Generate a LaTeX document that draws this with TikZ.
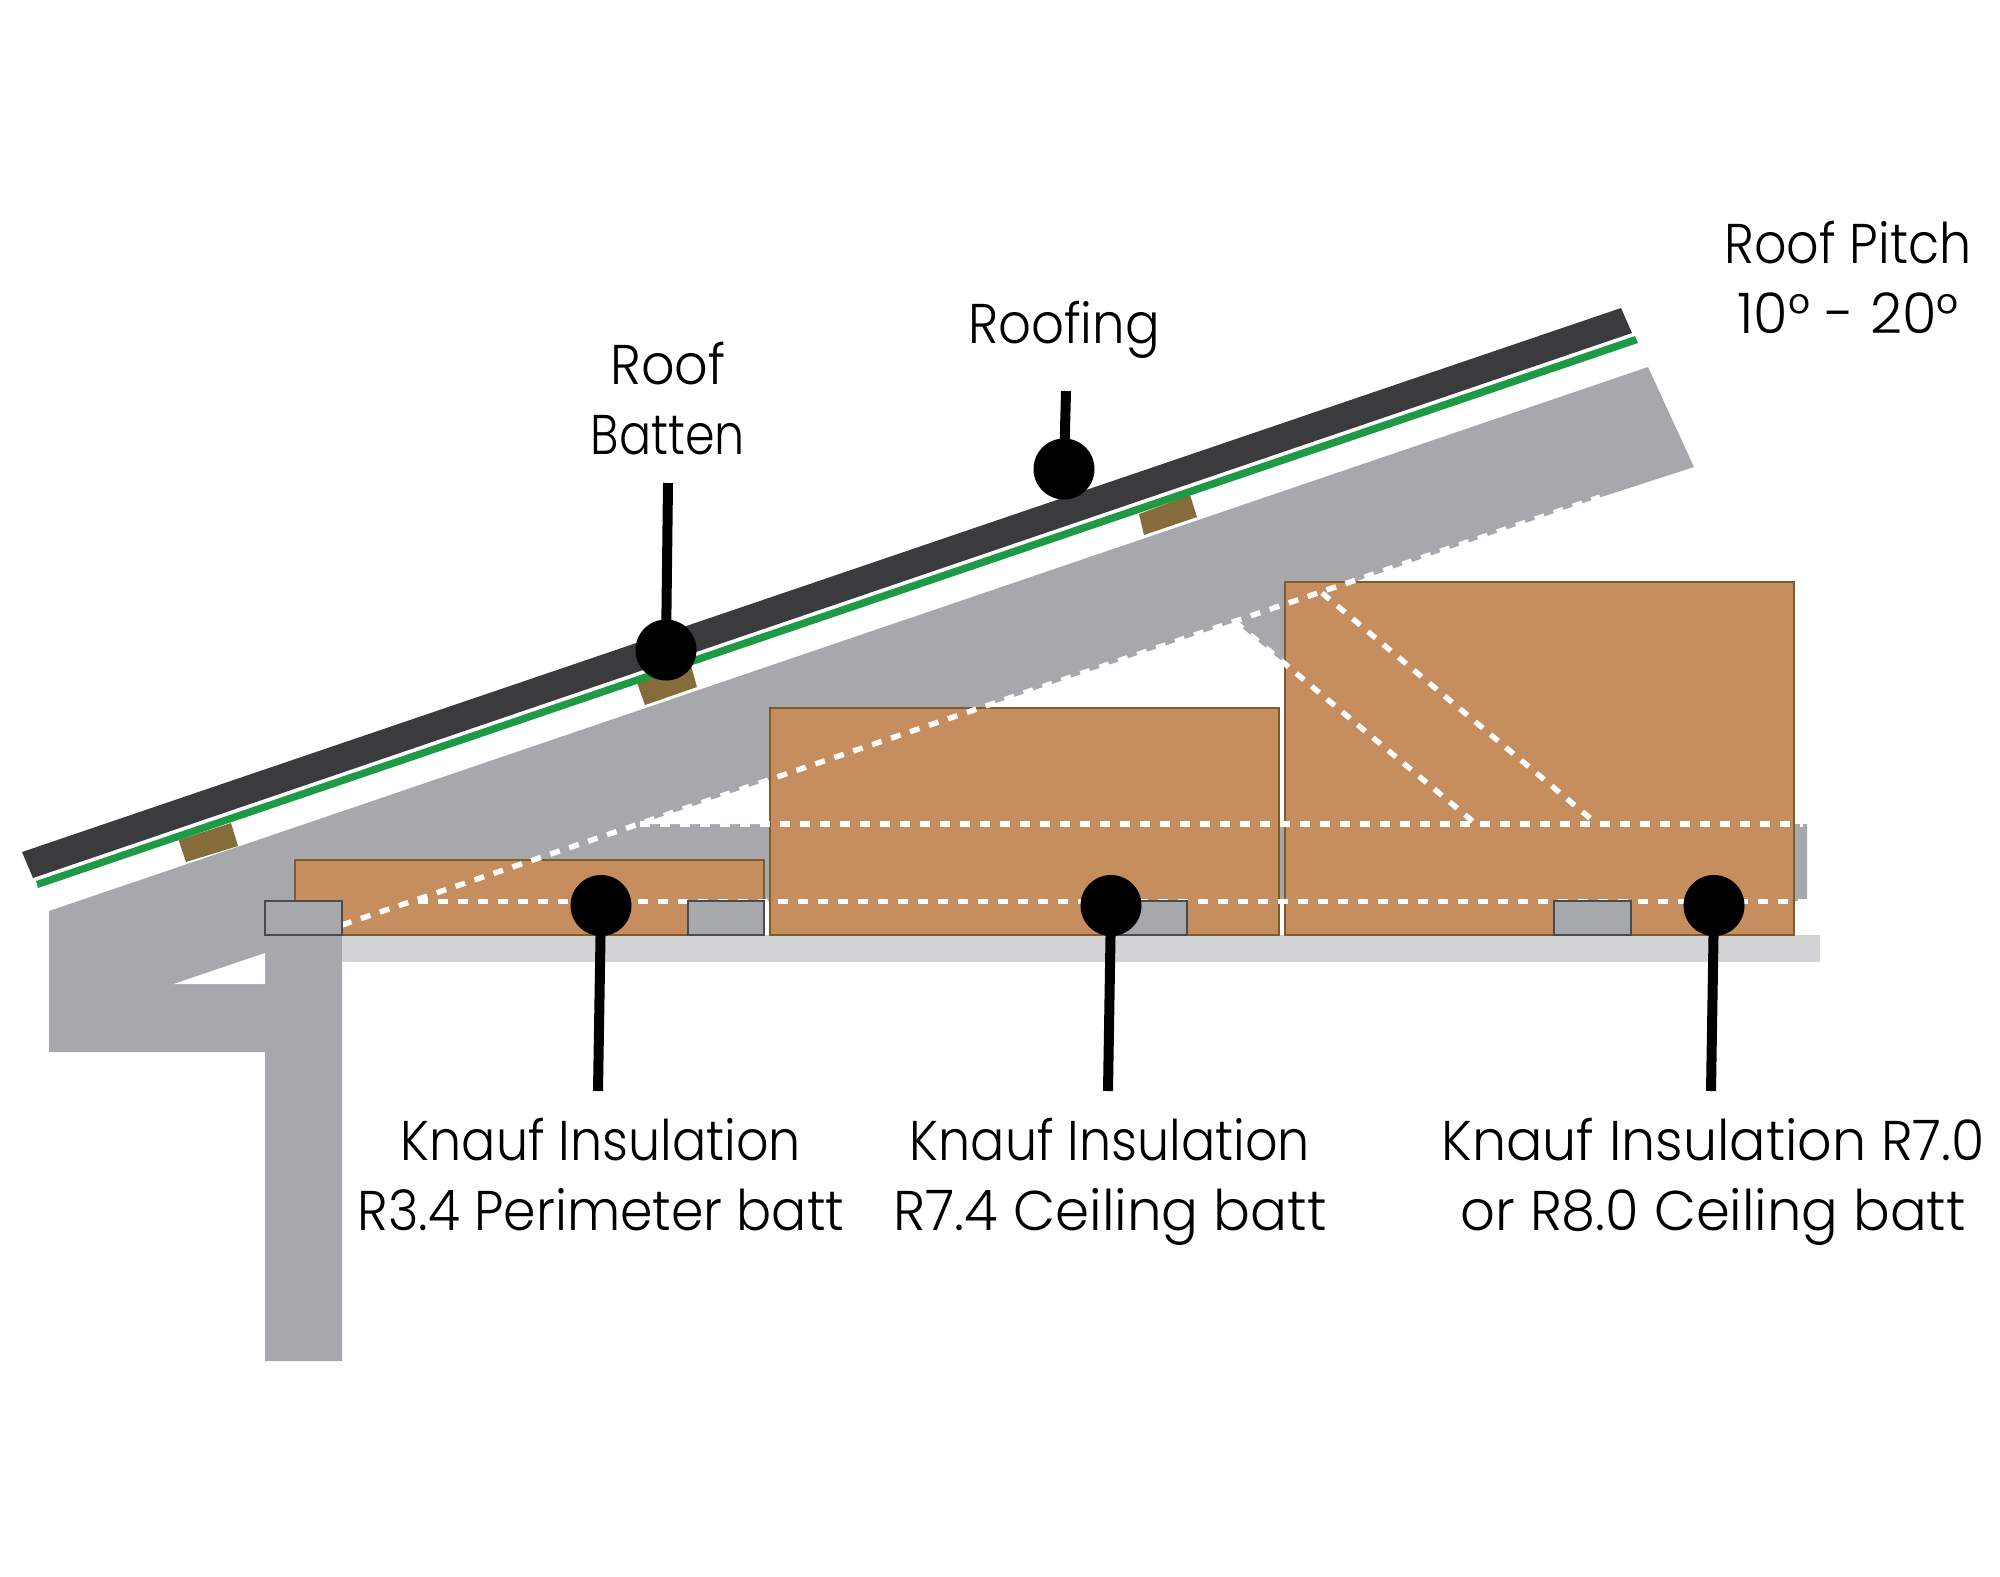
\documentclass[tikz,border=0pt]{standalone}
\usepackage{graphicx}
\usepackage{fontspec}
\setmainfont{Poppins}[UprightFont=* Light]
\definecolor{framegray}{HTML}{A7A8AB}
\definecolor{ceil}{HTML}{D1D3D4}
\definecolor{batt}{HTML}{C68E5E}
\definecolor{battedge}{HTML}{7F5D2B}
\definecolor{plateedge}{HTML}{4A4B4F}
\definecolor{roofdark}{HTML}{3B3B3D}
\definecolor{sarking}{HTML}{1E9A45}
\definecolor{battenc}{HTML}{856C3B}
\newcommand\fitline[2]{\rule[-9pt]{0pt}{24pt}\scalebox{#1}[1]{#2}}
\tikzset{
  battbox/.style={fill=batt,draw=battedge,line width=1.2pt},
  platebox/.style={fill=framegray,draw=plateedge,line width=1.3pt},
  hidden/.style={draw=white,line width=2.7pt,dash pattern=on 5pt off 5pt},
  dot/.style={circle,fill=black,inner sep=0pt,minimum size=30.5pt},
  leader/.style={draw=black,line width=5pt},
  lab/.style={align=center,text=black,inner sep=0pt,font=\fontsize{28}{35}\selectfont},
  batten/.style={fill=battenc}
}
\begin{document}
\begin{tikzpicture}[x=0.5pt,y=-0.5pt]
\useasboundingbox (0,0) rectangle (2000,1576);
% frame
\fill[framegray] (49,911) -- (1648,367) -- (1694,467) -- (1592,500) -- (1322,593) -- (1597,824) -- (1807,824) -- (1807,901) -- (342,901) -- (342,1361) -- (265,1361) -- (265,1052) -- (49,1052) -- cycle;
\fill[white] (640,824) -- (1235,622) -- (1476,824) -- cycle;
\fill[white] (173.5,984) -- (265,953) -- (265,984) -- cycle;
\fill[ceil] (342,935) rectangle (1820,962);
% battens
\fill[batten] (178.6,840) -- (231,823) -- (238,846) -- (186,862) -- cycle;
\fill[batten] (636,680) -- (690,662) -- (697,687) -- (645,705) -- cycle;
\fill[batten] (1139,514) -- (1190,495) -- (1197,517) -- (1144,535) -- cycle;
% roofing and sarking
\fill[roofdark] (22,852) -- (1621,308) -- (1632,333) -- (33,878) -- cycle;
\fill[sarking] (36,881) -- (1635,336) -- (1638,343) -- (38,888) -- cycle;
% batts
\path[battbox] (295,860) rectangle (764,935);
\path[battbox] (770,708) rectangle (1279,935);
\path[battbox] (1285,582) rectangle (1794,935);
% hidden lines
\draw[hidden] (342,925) -- (1600,497);
\draw[hidden] (418,901.5) -- (1807,901.5);
\draw[hidden] (640,824) -- (1803,824);
\draw[hidden] (1322,593) -- (1597,824);
\draw[hidden] (1235,622) -- (1476,824);
% plates
\path[platebox] (265,901) rectangle (342,935);
\path[platebox] (688,901) rectangle (764,935);
\path[platebox] (1111,901) rectangle (1187,935);
\path[platebox] (1554,901) rectangle (1631,935);
% callouts
\node[dot] (dRoofing) at (1064,469) {};
\node[dot] (dBatten) at (666,650) {};
\node[dot] (dA) at (601,905.5) {};
\node[dot] (dB) at (1111,905.5) {};
\node[dot] (dC) at (1714,905.5) {};
\coordinate (eRoofing) at (1066,391);
\coordinate (eBatten) at (668,483);
\coordinate (eA) at (598,1091);
\coordinate (eB) at (1108,1091);
\coordinate (eC) at (1711,1091);
\draw[leader] (dRoofing.center) -- (eRoofing);
\draw[leader] (dBatten.center) -- (eBatten);
\draw[leader] (dA.center) -- (eA);
\draw[leader] (dB.center) -- (eB);
\draw[leader] (dC.center) -- (eC);
% labels
\node[lab] (lRoofing) at (1064,331) {\fitline{.918}{Roofing}};
\node[lab] (lBatten) at (668,407) {\fitline{.936}{Roof}\\\fitline{.85}{Batten}};
\node[lab] (lPitch) at (1848,286) {\fitline{.906}{Roof Pitch}\\\fitline{1}{10° - 20°}};
\node[lab] (lA) at (601,1183) {\fitline{.907}{Knauf Insulation}\\\fitline{.93}{R3.4 Perimeter batt}};
\node[lab] (lB) at (1110,1183) {\fitline{.907}{Knauf Insulation}\\\fitline{.977}{R7.4 Ceiling batt}};
\node[lab] (lC) at (1713,1183) {\fitline{.963}{Knauf Insulation R7.0}\\\fitline{.971}{or R8.0 Ceiling batt}};
\end{tikzpicture}
\end{document}
